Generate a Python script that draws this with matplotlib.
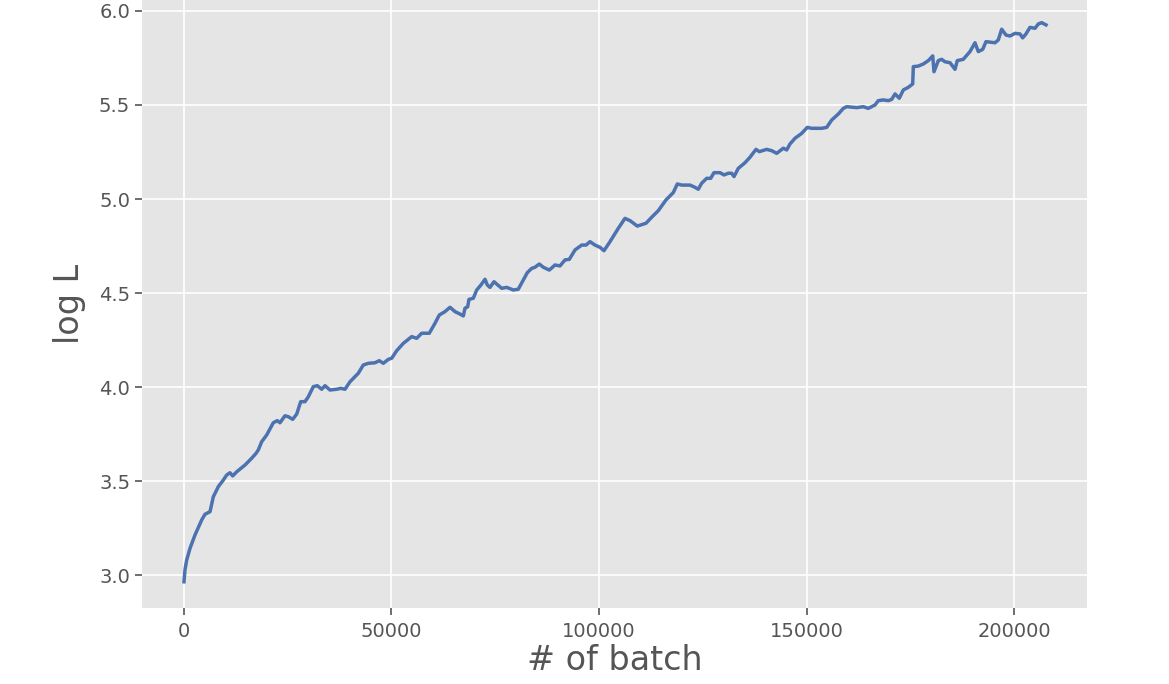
import matplotlib
matplotlib.use("Agg")
import matplotlib.pyplot as plt

plt.style.use("ggplot")

batch = [0, 240, 650, 1450, 2650, 4270, 5060, 6270, 7060, 8270, 9470, 10290, 11080, 11730, 12700,
         14700, 16310, 17350, 17900, 18720, 19930, 21520, 22480, 23130, 24340, 25130, 26190,
         27160, 28120, 29160, 29950, 31160, 32120, 33180, 33980, 35180, 36790, 37760, 38790,
         40000, 42000, 43200, 44410, 46020, 47060, 48020, 49230, 50050, 51250, 52840, 54870,
         56070, 57280, 59110, 60480, 61520, 62890, 64100, 65300, 66510, 67300, 67710, 68360,
         68670, 69710, 70530, 71570, 72530, 73080, 73730, 74700, 76550, 77760, 79350, 80550,
         81760, 82720, 83780, 84580, 85610, 86580, 88020, 89400, 90600, 91810, 92840, 94220,
         95830, 96870, 97830, 99040, 100240, 101200, 102650, 104650, 106260, 107470, 109230,
         111320, 112700, 114290, 116140, 117900, 118870, 119930, 121930, 123130, 123930,
         124740, 125950, 126910, 127710, 129160, 130130, 131160, 131970, 132530, 133560,
         135180, 136380, 137830, 138630, 140410, 141610, 142820, 144410, 145230, 146030,
         147230, 148840, 150190, 151250, 152460, 153660, 154870, 156070, 157660, 158870,
         159690, 162100, 163690, 164890, 166500, 167300, 168500, 169710, 170530, 171330,
         172360, 173330, 174530, 175590, 175740, 176940, 178140, 179350, 180410, 180720,
         181760, 182570, 183370, 184580, 185780, 186340, 187780, 189390, 190600, 191400,
         192460, 193250, 195420, 196210, 197030, 198070, 199030, 200240, 201440, 202090,
         202890, 203850, 205060, 205850, 206670, 207710]

log_L = [2.964, 3.027, 3.080, 3.142, 3.213, 3.293, 3.323, 3.337, 3.416, 3.470, 3.505, 3.532, 3.544,
         3.527, 3.549, 3.585, 3.621, 3.647, 3.665, 3.709, 3.745, 3.810, 3.821, 3.810, 3.847,
         3.842, 3.828, 3.856, 3.922, 3.922, 3.948, 4.002, 4.007, 3.988, 4.007, 3.984, 3.988,
         3.993, 3.988, 4.028, 4.073, 4.117, 4.126, 4.129, 4.140, 4.126, 4.147, 4.153, 4.193,
         4.232, 4.268, 4.259, 4.286, 4.286, 4.339, 4.383, 4.401, 4.424, 4.401, 4.388, 4.378,
         4.419, 4.427, 4.466, 4.472, 4.516, 4.543, 4.573, 4.543, 4.530, 4.560, 4.525, 4.530,
         4.516, 4.520, 4.569, 4.608, 4.631, 4.637, 4.654, 4.637, 4.622, 4.649, 4.644, 4.676,
         4.679, 4.729, 4.755, 4.755, 4.773, 4.755, 4.743, 4.725, 4.773, 4.844, 4.897, 4.885,
         4.856, 4.871, 4.903, 4.938, 4.995, 5.034, 5.080, 5.074, 5.074, 5.062, 5.052, 5.084,
         5.110, 5.110, 5.140, 5.140, 5.128, 5.137, 5.137, 5.119, 5.163, 5.193, 5.222, 5.264,
         5.252, 5.264, 5.257, 5.243, 5.270, 5.261, 5.293, 5.323, 5.349, 5.381, 5.376, 5.376,
         5.376, 5.381, 5.420, 5.452, 5.482, 5.491, 5.486, 5.491, 5.482, 5.500, 5.523, 5.527,
         5.523, 5.530, 5.559, 5.536, 5.580, 5.594, 5.612, 5.704, 5.707, 5.718, 5.736, 5.761,
         5.677, 5.736, 5.743, 5.730, 5.725, 5.690, 5.736, 5.743, 5.784, 5.831, 5.784, 5.796,
         5.837, 5.831, 5.846, 5.903, 5.872, 5.867, 5.881, 5.878, 5.857, 5.878, 5.913, 5.908,
         5.931, 5.938, 5.926]

x_ticks = [0, 50000, 100000, 150000, 200000]
y_ticks = [3.0, 3.5, 4.0, 4.5, 5.0, 5.5, 6.0]

fig = plt.figure(figsize=(11.69, 6.84), dpi=100)
ax = fig.add_axes([142/1169, 76/684, 945/1169, 608/684])
ax.plot(batch, log_L, color="#4C72B0", linewidth=2.5)

ax.set_xlim(-10120, 217590)
ax.set_ylim(2.8245, 6.0585)
ax.set_xticks(x_ticks)
ax.set_xticklabels([str(v) for v in x_ticks])
ax.set_yticks(y_ticks)
ax.set_yticklabels([f"{v:.1f}" for v in y_ticks])
ax.tick_params(axis="both", labelsize=14, colors="#555555", length=5, width=1.2)
ax.tick_params(axis="x", pad=5)
ax.set_xlabel("# of batch", fontsize=24, color="#555555", labelpad=2)
ax.set_ylabel("log L", fontsize=24, color="#555555", labelpad=9)
ax.grid(True, color="white", linewidth=1.2)
ax.set_facecolor("#E5E5E5")
for s in ax.spines.values():
    s.set_visible(False)

fig.savefig("out.png", dpi=100)
